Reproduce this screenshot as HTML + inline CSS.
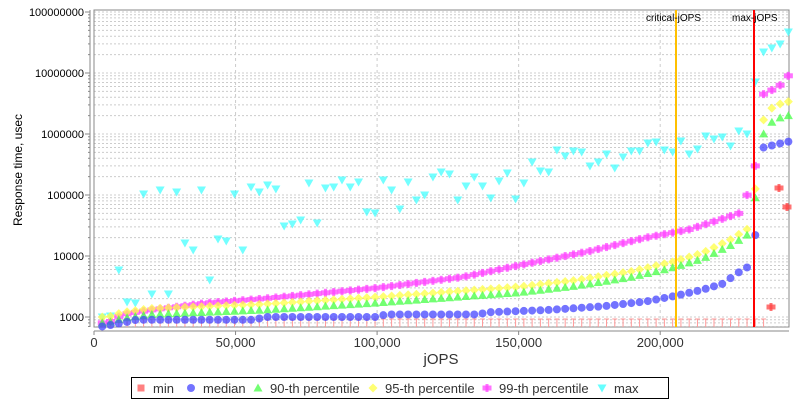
<!DOCTYPE html>
<html><head><meta charset="utf-8"><style>
body{margin:0;background:#fff;font-family:"Liberation Sans",sans-serif}
</style></head><body>
<svg id="s" width="800" height="400" xmlns="http://www.w3.org/2000/svg" font-family="Liberation Sans, sans-serif">
<rect width="800" height="400" fill="#fff"/>
<rect x="94" y="10" width="695" height="317" fill="#fff" stroke="#888"/>
<g id="grid"></g>
<g id="pts"></g>
<line x1="676" y1="10" x2="676" y2="327" stroke="#ffc000" stroke-width="2"/>
<line x1="754" y1="10" x2="754" y2="327" stroke="#ff0000" stroke-width="2"/>
<text x="646" y="21" font-size="10">critical-jOPS</text>
<text x="732" y="21" font-size="10">max-jOPS</text>
<line x1="94" y1="10" x2="94" y2="327" stroke="#888"/>
<line x1="94" y1="331" x2="789" y2="331" stroke="#888"/>
<line x1="90" y1="10" x2="90" y2="327" stroke="#888"/>
<g id="ax" font-size="12" fill="#333"></g>
<text x="441" y="364" font-size="15" text-anchor="middle" fill="#333">jOPS</text>
<text transform="translate(22,170) rotate(-90)" font-size="12" text-anchor="middle">Response time, usec</text>
<rect x="131.5" y="377.5" width="537" height="21" fill="#fff" stroke="#000"/>
<g id="leg" font-size="13" fill="#333"></g>
</svg>
<script>
const NS="http://www.w3.org/2000/svg";
function el(p,t,a,txt){const e=document.createElementNS(NS,t);for(const k in a)e.setAttribute(k,a[k]);if(txt)e.textContent=txt;p.appendChild(e);return e;}
const X=v=>94+v*695/245500, Y=v=>317-61*(Math.log10(v)-3);
const g=document.getElementById('grid'),ax=document.getElementById('ax');
for(let d=2;d<=8;d++){for(let m=1;m<10;m++){const v=m*Math.pow(10,d);const y=Y(v);if(y<10||y>327)continue;
el(g,'line',{x1:94,x2:789,y1:y,y2:y,stroke:'#ccc','stroke-dasharray':'2,2'});
el(g,'line',{x1:90,x2:m==1?85:88,y1:y,y2:y,stroke:'#888'});
if(m==1)el(ax,'text',{x:84,y:y+4,'text-anchor':'end','font-size':11,fill:'#000'},String(v));}}
for(let v=0;v<=200000;v+=50000){const x=X(v);
if(v>0)el(g,'line',{x1:x,x2:x,y1:10,y2:327,stroke:'#ccc','stroke-dasharray':'3,3'});
el(g,'line',{x1:x,x2:x,y1:331,y2:335,stroke:'#888'});
el(ax,'text',{x:x,y:347,'text-anchor':'middle','font-size':13},v.toLocaleString('en-US'));}
function interp(a,x){if(x<=a[0][0])return a[0][1];for(let i=1;i<a.length;i++)if(x<=a[i][0]){const t=(x-a[i-1][0])/(a[i][0]-a[i-1][0]);return Math.pow(10,Math.log10(a[i-1][1])+t*(Math.log10(a[i][1])-Math.log10(a[i-1][1])));}return a[a.length-1][1];}
const med=[[3000,700],[10000,800],[15000,900],[57000,900],[60000,1000],[100000,1000],[103000,1100],[135000,1100],[140000,1200],[160000,1300],[180000,1500],[195000,1800],[205000,2200],[215000,2800],[222000,3500],[228000,5500],[230700,6500],[233600,22000],[236500,600000],[245000,750000]];
const p90=[[5000,800],[10000,950],[20000,1100],[60000,1300],[100000,1700],[150000,2500],[170000,3200],[190000,4500],[205000,6500],[215000,9000],[225000,15000],[230700,22000],[233600,90000],[236500,1000000],[240000,1700000],[245000,2000000]];
const p95=p90.map(([a,b])=>[a,b*(a>236000?1.7:(a>233000?1.4:1.25))]);
const p99=[[5000,800],[10000,1100],[20000,1300],[40000,1700],[60000,2000],[100000,3000],[130000,4500],[150000,7000],[175000,12000],[195000,20000],[210000,27000],[220000,38000],[227800,50000],[230700,100000],[233600,300000],[236500,4500000],[242000,6000000],[245000,9000000]];
const mx=[317,316,270,302,303,194,294,190,294,192,243,250,190,280,239,241,194,250,187,192,185,189,226,224,220,183,223,188,187,180,187,182,212,213,180,190,209,182,200,195,177,172,174,200,186,177,186,198,181,173,199,183,162,171,172,150,156,151,152,166,162,154,168,157,151,151,143,142,150,152,141,154,149,136,139,137,146,131,134,82,52,48,44,32];
const P=document.getElementById('pts');
function mk(p,t,x,y,c){const o={fill:c,opacity:0.75};
if(t=='sq')el(p,'rect',Object.assign({x:x-3.5,y:y-3.5,width:7,height:7},o));
else if(t=='ci')el(p,'circle',Object.assign({cx:x,cy:y,r:4},o));
else if(t=='tu')el(p,'polygon',Object.assign({points:`${x},${y-4.5} ${x+4.5},${y+3.5} ${x-4.5},${y+3.5}`},o));
else if(t=='di')el(p,'polygon',Object.assign({points:`${x},${y-4.5} ${x+4.5},${y} ${x},${y+4.5} ${x-4.5},${y}`},o));
else if(t=='sp'){el(p,'rect',Object.assign({x:x-4.5,y:y-2.5,width:9,height:5},o));el(p,'rect',Object.assign({x:x-1.5,y:y-4,width:3,height:8},o));}
else if(t=='td')el(p,'polygon',Object.assign({points:`${x-4.5},${y-3.5} ${x+4.5},${y-3.5} ${x},${y+4.5}`},o));}
const step=2920;
for(let k=1;k<=84;k++){const v=k*step,x=X(v);
if(k<=81){el(P,'line',{x1:x,x2:x,y1:319,y2:327,stroke:'#f99'});el(P,'line',{x1:x-2.5,x2:x+2.5,y1:319,y2:319,stroke:'#f99'});}
mk(P,'td',x,mx[k-1],'#44ffff');
mk(P,'sp',x,Y(interp(p99,v)),'#ff44ff');
mk(P,'di',x,Y(interp(p95,v)),'#ffff44');
mk(P,'tu',x,Y(interp(p90,v)),'#44ff44');
const m=Y(interp(med,v));if(m<327)mk(P,'ci',x,m,'#4444ff');}
mk(P,'sp',771,307,'#ff4444');mk(P,'sp',779,188,'#ff4444');mk(P,'sp',787,207,'#ff4444');
const L=document.getElementById('leg');
const items=[['sq','#ff5555','min',141],['ci','#4444ff','median',191],['tu','#44ff44','90-th percentile',258],['di','#ffff44','95-th percentile',373],['sp','#ff44ff','99-th percentile',487],['td','#33ffff','max',602]];
for(const [t,c,n,x] of items){mk(L,t,x,388,c);el(L,'text',{x:x+12,y:393},n);}
</script>
</body></html>
